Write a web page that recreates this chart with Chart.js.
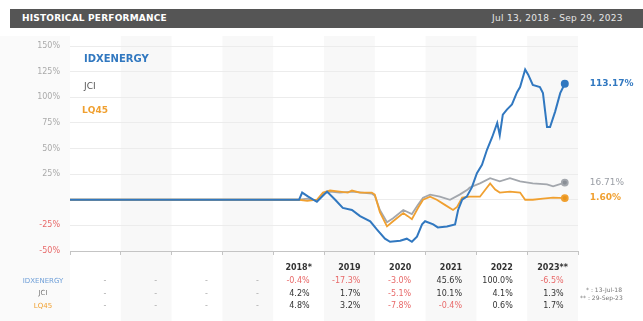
<!DOCTYPE html>
<html>
<head>
<meta charset="utf-8">
<script src="https://cdn.jsdelivr.net/npm/chart.js@4.4.1/dist/chart.umd.min.js"></script>
<style>
  body { margin: 0; background: #fff; font-family: "DejaVu Sans", sans-serif; }
  #wrap { position: relative; width: 643px; height: 321px; overflow: hidden; }
  #bar { position: absolute; left: 10px; top: 9px; width: 633px; height: 19px; background: #555; color: #fff; overflow: hidden; }
  #bar .t { position: absolute; left: 12px; top: 4px; font-size: 9px; font-weight: bold; letter-spacing: 0.2px; }
  #bar .d { position: absolute; left: 482px; top: 4px; font-size: 9px; color: #e6e6e6; white-space: nowrap; letter-spacing: 0.3px; }
  canvas { position: absolute; left: 0; top: 0; }
</style>
</head>
<body>
<div id="wrap">
  <canvas id="perf" width="643" height="321"></canvas>
  <div id="bar"><span class="t">HISTORICAL PERFORMANCE</span><span class="d">Jul 13, 2018 - Sep 29, 2023</span></div>
</div>
<script>
// x values are decimal years, y values are % change since Jul 13, 2018
const energyX = [2014, 2018.51, 2018.57, 2018.69, 2018.86, 2019.06, 2019.22, 2019.37, 2019.55, 2019.71, 2019.91,
  2020.04, 2020.20, 2020.30, 2020.50, 2020.63, 2020.73, 2020.83, 2020.93, 2020.99, 2021.15, 2021.24, 2021.42,
  2021.58, 2021.64, 2021.72, 2021.81, 2021.91, 2022.01, 2022.11, 2022.21, 2022.31, 2022.41, 2022.46, 2022.52,
  2022.60, 2022.70, 2022.80, 2022.86, 2022.96, 2023.02, 2023.11, 2023.25, 2023.31, 2023.39, 2023.45, 2023.55,
  2023.65, 2023.74];
const energyY = [0, 0, 7, 3, -2, 8, 0, -8, -10, -16, -21,
  -29, -38, -41, -40, -38, -41, -36, -24, -21, -24, -27, -26,
  -24, -10, 0, 3, 12, 26, 34, 49, 61, 75, 63, 83,
  88, 93, 105, 110, 127, 122, 112, 110, 104, 71, 71, 86,
  104, 113.17];

const jciX = [2014, 2018.51, 2018.67, 2018.86, 2018.98, 2019.12, 2019.31, 2019.55, 2019.94, 2020.00, 2020.10,
  2020.24, 2020.36, 2020.56, 2020.73, 2020.85, 2020.95, 2021.09, 2021.28, 2021.48, 2021.67, 2021.83, 2021.87,
  2022.07, 2022.27, 2022.46, 2022.66, 2022.86, 2023.11, 2023.39, 2023.51, 2023.74];
const jciY = [0, 0, 1, -1, 6, 8, 7, 8, 6, 4, -10,
  -22, -18, -10, -14, -5, 2, 5, 3, 0, 5, 10, 12,
  16, 21, 18, 21, 18, 16, 15, 13, 16.71];

const lq45X = [2014, 2018.51, 2018.67, 2018.86, 2018.98, 2019.12, 2019.31, 2019.47, 2019.55, 2019.71, 2019.94,
  2020.00, 2020.10, 2020.24, 2020.36, 2020.56, 2020.65, 2020.73, 2020.85, 2020.95, 2021.09, 2021.22, 2021.38,
  2021.54, 2021.62, 2021.72, 2021.87, 2022.07, 2022.27, 2022.37, 2022.46, 2022.66, 2022.86, 2022.96, 2023.11,
  2023.31, 2023.51, 2023.74];
const lq45Y = [0, 0, -1, 0, 7, 9, 8, 7, 9, 7, 7,
  5, -12, -26, -21, -13, -16, -19, -8, 0, 3, 0, -5,
  -10, -7, 2, 3, 3, 16, 10, 7, 8, 7, 0, 0,
  1, 2, 1.6];

const yearLabels = ["", "", "", "", "2018*", "2019", "2020", "2021", "2022", "2023**"];
const energyReturns = [null, null, null, null, -0.4, -17.3, -3.0, 45.6, 100.0, -6.5];
const jciReturns = [null, null, null, null, 4.2, 1.7, -5.1, 10.1, 4.1, 1.3];
const lq45Returns = [null, null, null, null, 4.8, 3.2, -7.8, -0.4, 0.6, 1.7];
const endLabels = ["113.17%", "16.71%", "1.60%"];
const notes = ["* : 13-Jul-18", "** : 29-Sep-23"];

const BLUE = "#3178c0", GRAY = "#a3a7ad", ORANGE = "#f0a030";

function pts(xs, ys) {
  return xs.map((x, i) => ({ x: x, y: ys[i] }));
}
function endDot(ctx) {
  return ctx.dataIndex === ctx.dataset.data.length - 1 ? 3 : 0;
}

const bands = {
  id: "bands",
  beforeDraw(chart) {
    const c = chart.ctx, x = chart.scales.x, a = chart.chartArea;
    c.save();
    c.fillStyle = "#fafafa";
    c.fillRect(0, a.top - 10, a.left, chart.height);
    c.fillStyle = "#f8f8f8";
    for (let yr = 2015; yr < 2024; yr += 2) {
      const l = x.getPixelForValue(yr), r = x.getPixelForValue(yr + 1);
      c.fillRect(l, a.top - 10, r - l, chart.height);
    }
    c.restore();
  }
};

const labels = {
  id: "labels",
  afterDraw(chart) {
    const c = chart.ctx, x = chart.scales.x;
    c.save();
    // legend in the plot
    c.textBaseline = "middle";
    c.textAlign = "left";
    c.font = "bold 10px 'DejaVu Sans'";
    c.fillStyle = BLUE;
    c.fillText("IDXENERGY", 84, 59);
    c.font = "9px 'DejaVu Sans'";
    c.fillStyle = "#555";
    c.fillText("JCI", 84, 87);
    c.font = "bold 9px 'DejaVu Sans'";
    c.fillStyle = ORANGE;
    c.fillText("LQ45", 82, 111);

    // last values
    const cols = [BLUE, "#9a9ea5", ORANGE];
    chart.data.datasets.forEach((ds, i) => {
      const meta = chart.getDatasetMeta(i);
      const p = meta.data[meta.data.length - 1];
      c.font = (i === 1 ? "" : "bold ") + "9px 'DejaVu Sans'";
      c.fillStyle = cols[i];
      c.fillText(endLabels[i], p.x + 25, p.y);
    });

    // returns table
    const rows = [
      ["IDXENERGY", energyReturns, "#6f9fd8"],
      ["JCI", jciReturns, "#777"],
      ["LQ45", lq45Returns, ORANGE]
    ];
    c.font = "bold 8px 'DejaVu Sans'";
    c.fillStyle = "#333";
    c.textAlign = "center";
    yearLabels.forEach((t, k) => {
      if (t) c.fillText(t, x.getPixelForValue(2014 + k + 0.5), 268);
    });
    rows.forEach((row, r) => {
      const y = 281 + r * 12.5;
      c.textAlign = "center";
      c.font = "7px 'DejaVu Sans'";
      c.fillStyle = row[2];
      c.fillText(row[0], 43, y);
      c.textAlign = "right";
      c.font = "8px 'DejaVu Sans'";
      row[1].forEach((v, k) => {
        const px = x.getPixelForValue(2014 + k + 0.5) + 11;
        if (v === null) {
          c.fillStyle = "#aaa";
          c.fillText("-", px, y);
        } else {
          c.fillStyle = v < 0 ? "#e86a6a" : "#333";
          c.fillText(v.toFixed(1) + "%", px, y);
        }
      });
    });
    c.textAlign = "left";
    c.font = "6px 'DejaVu Sans'";
    c.fillStyle = "#777";
    c.fillText(notes[0], 586, 290);
    c.fillText(notes[1], 580, 298);
    c.restore();
  }
};

new Chart(document.getElementById("perf"), {
  type: "line",
  data: {
    datasets: [
      { label: "IDXENERGY", data: pts(energyX, energyY), borderColor: BLUE, backgroundColor: BLUE,
        borderWidth: 2, pointRadius: endDot, order: 0 },
      { label: "JCI", data: pts(jciX, jciY), borderColor: GRAY, backgroundColor: "#8a8f96",
        borderWidth: 1.8, pointRadius: endDot, order: 2 },
      { label: "LQ45", data: pts(lq45X, lq45Y), borderColor: ORANGE, backgroundColor: "#e8941c",
        borderWidth: 1.8, pointRadius: endDot, order: 1 }
    ]
  },
  options: {
    responsive: false,
    animation: false,
    tension: 0,
    layout: { padding: { top: 46, right: 65, bottom: 0, left: 0 } },
    plugins: { legend: { display: false }, tooltip: { enabled: false } },
    scales: {
      x: {
        type: "linear", min: 2014, max: 2024,
        ticks: { stepSize: 1, display: false },
        grid: { drawOnChartArea: false, drawTicks: true, tickLength: 4, color: "#c4c4c4" },
        border: { color: "#c4c4c4" },
        afterFit(s) { s.height = 70; }
      },
      y: {
        min: -50, max: 150,
        ticks: {
          stepSize: 25, padding: 10,
          font: { size: 8, family: "DejaVu Sans" },
          color: (ctx) => ctx.tick.value < 0 ? "#e86a6a" : "#aaa",
          callback: (v) => v === 0 ? "" : v + "%"
        },
        grid: { color: "#ececec", drawTicks: false },
        border: { display: false },
        afterFit(s) { s.width = 70; }
      }
    }
  },
  plugins: [bands, labels]
});
</script>
</body>
</html>
